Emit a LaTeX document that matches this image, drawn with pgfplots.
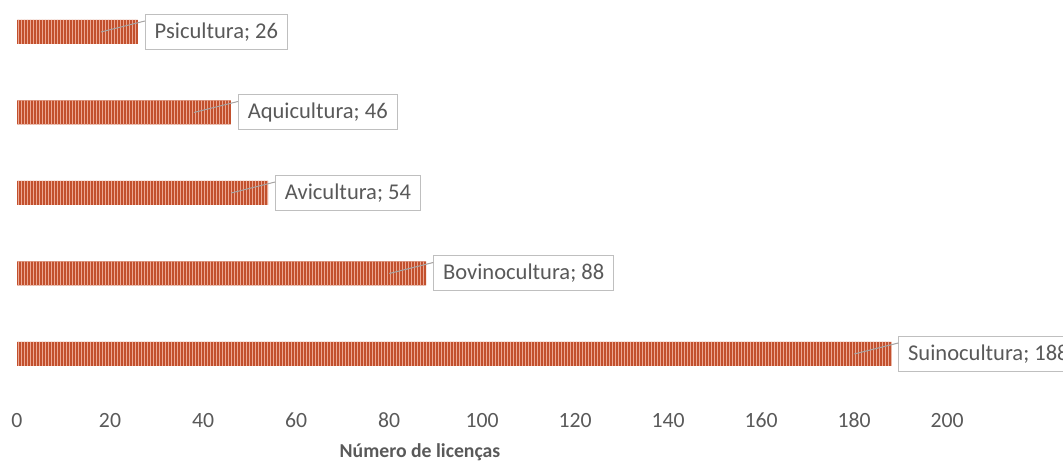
\documentclass[border=0pt]{standalone}
\usepackage{pgfplots}
\pgfplotsset{compat=1.18}
\usepackage{pgfplotstable}
\usepackage{fontspec}
\setmainfont{Carlito}
\usetikzlibrary{patterns.meta}

\definecolor{barred}{RGB}{194,80,45}
\definecolor{barline}{RGB}{236,168,148}
\definecolor{txtgray}{RGB}{89,89,89}
\definecolor{boxgray}{RGB}{191,191,191}
\definecolor{leadgray}{RGB}{166,166,166}

\pgfplotstableread{
idx val nome
0 188 Suinocultura
1 88  Bovinocultura
2 54  Avicultura
3 46  Aquicultura
4 26  Psicultura
}\licencas

\begin{document}
\begin{tikzpicture}
\begin{axis}[
  at={(12.75pt,54.5625pt)}, anchor=south west,
  scale only axis,
  width=718.5pt, height=301.875pt,
  xmin=0, xmax=206, ymin=-0.5, ymax=4.5,
  clip=false,
  axis line style={draw=none},
  major tick length=0pt,
  ytick=\empty,
  xtick={0,20,...,200},
  /pgf/number format/assume math mode=true,
  xticklabel style={font=\fontsize{16.3}{18}\selectfont, text=txtgray,
    anchor=center, yshift=-19.5pt},
  xlabel={Número de licenças},
  xlabel style={font=\fontsize{14.8}{17}\selectfont\bfseries, text=txtgray,
    anchor=center, at={(rel axis cs:0,0)}, xshift=302.25pt, yshift=-43.8pt},
  xbar, bar width=18pt,
]
\addplot[draw=none, fill=barred,
  postaction={pattern={Lines[angle=90, distance=2.25pt, line width=0.7pt]},
              pattern color=barline},
  point meta=explicit symbolic,
  visualization depends on={x \as \valor},
  nodes near coords={\pgfplotspointmeta; \pgfmathprintnumber{\valor}},
  every node near coord/.append style={
    font=\fontsize{16.9}{19}\selectfont, text=txtgray,
    draw=boxgray, line width=0.75pt, fill=white,
    anchor=west, xshift=5.25pt,
    inner xsep=7pt, inner ysep=0pt, minimum height=26.25pt,
    append after command={
      (\tikzlastnode.west) ++(0pt,8.25pt) edge[draw=leadgray, line width=0.75pt] ++(-33pt,-8.25pt)
    }
  }]
  table[x=val, y=idx, meta=nome] {\licencas};
\end{axis}
\pgfresetboundingbox
\useasboundingbox (0,0) rectangle (797.25pt,350.25pt);
\end{tikzpicture}
\end{document}
